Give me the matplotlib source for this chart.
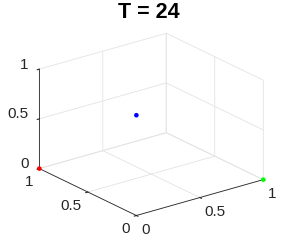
import numpy as np
import matplotlib
matplotlib.use("Agg")
import matplotlib.pyplot as plt

plt.rcParams['font.family'] = ['Liberation Sans', 'DejaVu Sans']

# points (x, y, z) and their colours
px = [0.0, 1.0, 0.52]
py = [1.0, 0.0, 0.68]
pz = [0.0, 0.0, 0.50]
pcol = ['#ff0000', '#00ff00', '#0000ff']
ticks = [0, 0.5, 1]
tick_labels = ['0', '0.5', '1']
title = 'T = 24'

fig = plt.figure(figsize=(2.91, 2.42), dpi=100)
ax = fig.add_axes([0.0096, 0.0136, 1.0, 0.92], projection='3d')
ax.set_proj_type('ortho')
ax.view_init(elev=21.7, azim=-127.4)
ax.set_box_aspect((1, 1, 0.67), zoom=1.09)

ax.set_xlim(0, 1)
ax.set_ylim(0, 1)
ax.set_zlim(0, 1)
for a in (ax.xaxis, ax.yaxis, ax.zaxis):
    a.set_ticks(ticks)
    a.set_ticklabels(tick_labels)
    a.set_pane_color((1, 1, 1, 0))
    a.pane.set_edgecolor('#e6e6e6')
    a.line.set_color('#262626')
    a.line.set_linewidth(0.6)
    a._axinfo['grid']['color'] = '#e3e3e3'
    a._axinfo['grid']['linewidth'] = 0.6
    a._axinfo['tick']['inward_factor'] = 0.2
    a._axinfo['tick']['outward_factor'] = 0.0
ax.tick_params(labelsize=11, colors='#262626')
ax.tick_params(axis='x', pad=-4)
ax.tick_params(axis='y', pad=-4)
ax.tick_params(axis='z', pad=-4)
for lab in ax.xaxis.get_ticklabels():
    lab.set_ha('left')
for lab in ax.yaxis.get_ticklabels():
    lab.set_ha('right')
for lab in ax.zaxis.get_ticklabels():
    lab.set_ha('right')
    lab.set_va('baseline')

ax.scatter(px, py, pz, c=pcol, s=11, depthshade=False, edgecolors='none',
           zorder=10, clip_on=False)
ax.computed_zorder = False

fig.suptitle(title, fontsize=15.5, fontweight='bold', x=0.512, y=0.99)

fig.savefig('out.png', dpi=100)
